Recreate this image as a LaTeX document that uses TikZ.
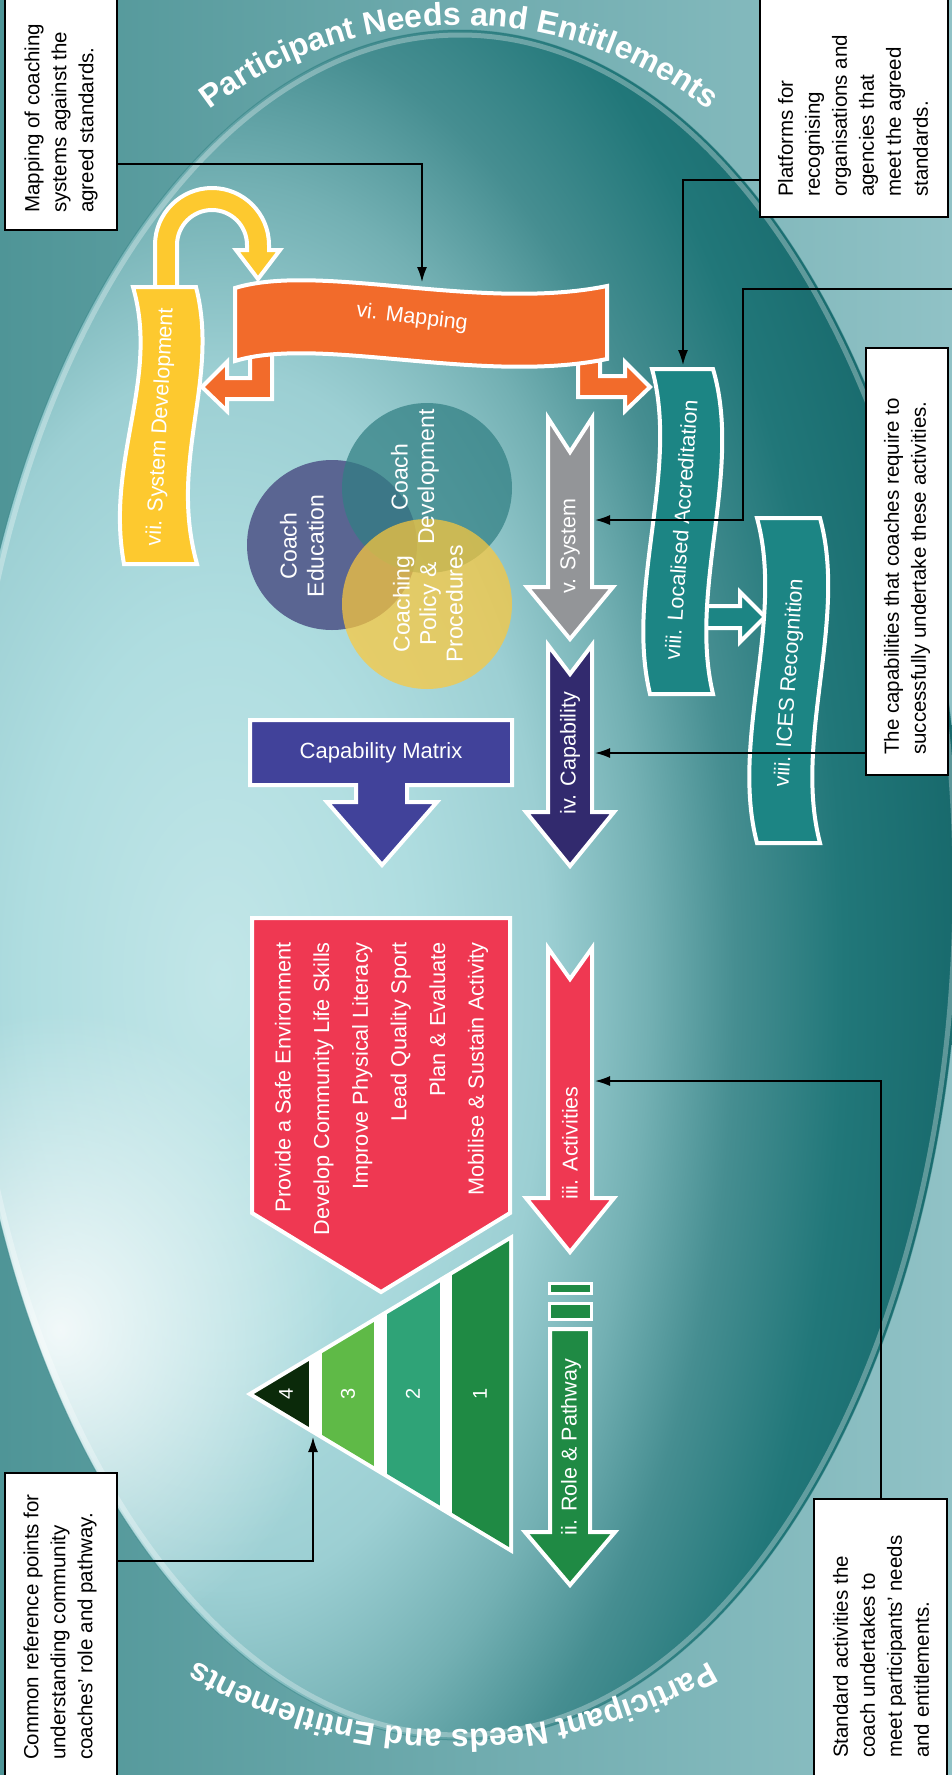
\documentclass[tikz,border=0pt]{standalone}
\usepackage{fontspec}
\setmainfont{Liberation Sans}
\usetikzlibrary{arrows.meta,decorations.text,fadings}
\definecolor{bgL}{HTML}{4F9597}
\definecolor{bgR}{HTML}{90C2C6}
\definecolor{bA}{HTML}{C2E6E8}
\definecolor{bB}{HTML}{AFDDE0}
\definecolor{bC}{HTML}{9CCFD3}
\definecolor{bD}{HTML}{73B0B3}
\definecolor{bE}{HTML}{468E91}
\definecolor{bF}{HTML}{217779}
\definecolor{bG}{HTML}{156568}
\definecolor{orangeR}{HTML}{F26B2B}
\definecolor{yellowR}{HTML}{FDC92F}
\definecolor{tealR}{HTML}{1C8584}
\definecolor{grayA}{HTML}{939598}
\definecolor{navyA}{HTML}{322A6E}
\definecolor{matrixB}{HTML}{41429A}
\definecolor{crimson}{HTML}{EF3852}
\definecolor{gA}{HTML}{1F8A44}
\definecolor{gB}{HTML}{2FA377}
\definecolor{gC}{HTML}{5FBA47}
\definecolor{gD}{HTML}{0B2A0A}
\definecolor{edu}{HTML}{5A6592}
\definecolor{dev}{HTML}{317F83}
\definecolor{pol}{HTML}{FCC83C}
\pgfdeclareradialshading{bubble}{\pgfpoint{0bp}{0bp}}{color(0bp)=(bA); color(6.25bp)=(bB); color(10.5bp)=(bC); color(13.75bp)=(bD); color(16.5bp)=(bE); color(20bp)=(bF); color(25bp)=(bG); color(50bp)=(bG)}
\tikzfading[name=glowfade, inner color=transparent!0, outer color=transparent!100]
\newcommand\arcfont{\fontsize{32}{32}\selectfont\bfseries}
\tikzset{
  wb/.style={draw=white, line width=4pt, line join=miter},
  lbl/.style={text=white, font=\fontsize{21.5}{26}\selectfont, inner sep=0pt},
  infobox/.style={draw=black, fill=white, line width=2.5pt, inner sep=0pt},
  boxtxt/.style={rotate=90, align=left, inner sep=0pt, text=black, font=\fontsize{20.5}{27}\selectfont},
  conn/.style={draw=black, line width=1.5pt, -{Latex[length=15pt,width=10pt]}},
  arcname/.style={decorate, decoration={text along path, text={|\arcfont|Participant Needs and Entitlements}, text align=center, text color=white}}
}
\begin{document}
\begin{tikzpicture}[x=1pt,y=-1pt]
\useasboundingbox (0,0) rectangle (952,1775);
% background
\shade[left color=bgL, right color=bgR] (0,0) rectangle (952,1775);
% bubble
\begin{scope}
  \clip (460,885) ellipse [x radius=500, y radius=855];
  \shade[shading=bubble] (220,980) ellipse [x radius=780, y radius=1450];
  \fill[white, path fading=glowfade, fill opacity=.85] (60,1330) ellipse [x radius=280, y radius=320];
  \draw[white, opacity=.3, line width=5pt] (460,885) ellipse [x radius=495, y radius=850];
\end{scope}
\draw[bF, opacity=.4, line width=1pt] (460,885) ellipse [x radius=500, y radius=855];
% arc texts
\path[arcname] (184.7,130.3) arc[start angle=228, end angle=312, radius=410];
\path[arcname] (724.8,1652) arc[start angle=58, end angle=122, radius=513];
% Venn
\fill[edu] (332,545) circle[radius=85];
\fill[dev, fill opacity=.72] (427,488) circle[radius=85];
\fill[pol, fill opacity=.72] (427,604) circle[radius=85];
\node[lbl, rotate=90, align=center, font=\fontsize{23}{27}\selectfont] (tEdu) at (302,546) {Coach\\Education};
\node[lbl, rotate=90, align=center, font=\fontsize{23}{26.5}\selectfont] (tDev) at (415,477) {Coach\\Development};
\node[lbl, rotate=90, align=center, font=\fontsize{23}{26.5}\selectfont] (tPol) at (428,604) {Coaching\\Policy \&\\Procedures};
% capability matrix
\path[fill=matrixB, wb] (250,720) -- (512,720) -- (512,785) -- (407,785) -- (407,802) -- (437,802) -- (382,865) -- (327,802) -- (356,802) -- (356,785) -- (250,785) -- cycle;
\node[lbl, font=\fontsize{22}{26}\selectfont] (tMat) at (381,753) {Capability Matrix};
% activities pentagon
\path[fill=crimson, wb] (252,918) -- (510,918) -- (510,1213) -- (381,1292) -- (252,1213) -- cycle;
\node[lbl, rotate=90, anchor=east, align=right, font=\fontsize{21.7}{38.6}\selectfont] (tList) at (381.5,942) {Provide a Safe Environment\\Develop Community Life Skills\\Improve Physical Literacy\\Lead Quality Sport\\Plan \& Evaluate\\Mobilise \& Sustain Activity};
% pyramid
\fill[white] (246,1394) -- (513,1234) -- (513,1554) -- cycle;
\begin{scope}
  \clip (254,1394) -- (509,1241) -- (509,1547) -- cycle;
  \fill[gD] (240,1200) rectangle (309,1600);
  \fill[gC] (322,1200) rectangle (374,1600);
  \fill[gB] (387,1200) rectangle (440,1600);
  \fill[gA] (452,1200) rectangle (512,1600);
\end{scope}
\node[lbl, rotate=90, font=\fontsize{20}{20}\selectfont] (p4) at (286,1394) {4};
\node[lbl, rotate=90, font=\fontsize{20}{20}\selectfont] (p3) at (348,1394) {3};
\node[lbl, rotate=90, font=\fontsize{20}{20}\selectfont] (p2) at (413,1394) {2};
\node[lbl, rotate=90, font=\fontsize{20}{20}\selectfont] (p1) at (480,1394) {1};
% column arrows
\path[fill=grayA, wb] (548,418) -- (570,452) -- (592,418) -- (592,587) -- (613,587) -- (570,639) -- (527,587) -- (548,587) -- cycle;
\path[fill=navyA, wb] (548,645) -- (570,674) -- (592,645) -- (592,812) -- (614,812) -- (570,866) -- (526,812) -- (548,812) -- cycle;
\path[fill=crimson, wb] (548,948) -- (570,979) -- (592,948) -- (592,1198) -- (614,1198) -- (570,1252) -- (526,1198) -- (548,1198) -- cycle;
\path[fill=gA, draw=white, line width=3pt] (549,1283) rectangle (591,1293);
\path[fill=gA, draw=white, line width=3pt] (549,1303) rectangle (591,1319);
\path[fill=gA, wb] (550,1329) -- (590,1329) -- (590,1532) -- (615,1532) -- (570,1585) -- (525,1532) -- (550,1532) -- cycle;
\node[lbl, rotate=90] (tSys) at (570,546) {v. System};
\node[lbl, rotate=90] (tCapA) at (570,753) {iv. Capability};
\node[lbl, rotate=90] (tActA) at (570,1143) {iii. Activities};
\node[lbl, rotate=90] (tRole) at (571,1447) {ii. Role \& Pathway};
% orange L arrows
\path[fill=orangeR, wb] (250,350) -- (250,378) -- (227,378) -- (227,362) -- (202,387) -- (227,411) -- (227,399) -- (272,399) -- (272,350) -- cycle;
\path[fill=orangeR, wb] (600,350) -- (600,376) -- (625,376) -- (625,362) -- (650,387) -- (625,411) -- (625,397) -- (578,397) -- (578,350) -- cycle;
% yellow arch
\path[fill=yellowR, wb] (155,300) -- (155,245) arc[start angle=180, end angle=360, radius=57] -- (269,250) -- (280,250) -- (258,279) -- (236,250) -- (247,250) -- (247,245) arc[start angle=0, end angle=-180, radius=35] -- (177,300) -- cycle;
% ribbons
\path[fill=orangeR, wb] (235,288) .. controls (320,262) and (480,312) .. (607,286) -- (607,359) .. controls (480,385) and (320,335) .. (235,361) -- cycle;
\node[lbl, rotate=-7] (tMap) at (412,318) {vi. Mapping};
\path[fill=yellowR, wb] (133,287) -- (196,287) .. controls (220,380) and (168,460) .. (197,564) -- (124,564) .. controls (105,460) and (160,380) .. (133,287) -- cycle;
\node[lbl, rotate=87] (tSD) at (161,427) {vii. System Development};
\path[fill=tealR, wb] (690,606) -- (740,606) -- (740,592) -- (765,617) -- (740,642) -- (740,628) -- (690,628);
\path[fill=tealR, wb] (652,369) -- (713,369) .. controls (743,470) and (688,590) .. (713,694) -- (650,694) .. controls (625,590) and (680,470) .. (652,369) -- cycle;
\node[lbl, rotate=86] (tLoc) at (681,530) {viii. Localised Accreditation};
\path[fill=tealR, wb] (757,518) -- (820,518) .. controls (848,620) and (793,740) .. (820,843) -- (757,843) .. controls (730,740) and (785,620) .. (757,518) -- cycle;
\node[lbl, rotate=86] (tICES) at (790,683) {viii. ICES Recognition};
% info boxes
\node[infobox, minimum width=112pt, minimum height=232pt] (boxA) at (61,114) {};
\node[boxtxt, anchor=west] at (61,213) {Mapping of coaching\\systems against the\\agreed standards.};
\node[infobox, minimum width=188pt, minimum height=219pt] (boxB) at (854,107.5) {};
\node[boxtxt, anchor=west] at (853,197) {Platforms for\\recognising\\organisations and\\agencies that\\meet the agreed\\standards.};
\node[infobox, minimum width=82pt, minimum height=427pt] (boxD) at (907,561.5) {};
\node[boxtxt, anchor=west] at (907,755) {The capabilities that coaches require to\\successfully undertake these activities.};
\node[infobox, minimum width=112pt, minimum height=317pt] (boxE) at (61,1631.5) {};
\node[boxtxt, anchor=west] at (60,1760) {Common reference points for\\understanding community\\coaches' role and pathway.};
\node[infobox, minimum width=133pt, minimum height=291pt] (boxF) at (880.5,1644.5) {};
\node[boxtxt, anchor=west] at (881,1758) {Standard activities the\\coach undertakes to\\meet participants' needs\\and entitlements.};
% connector targets
\coordinate (yA) at (0,164);
\coordinate (yB) at (0,180);
\coordinate (yE) at (0,1561);
\coordinate (xF) at (881,0);
\coordinate (tgMap) at (422,282);
\coordinate (tgLoc) at (683,365);
\coordinate (cRight) at (952,289);
\coordinate (cBend) at (743,520);
\coordinate (tgSys) at (595,520);
\coordinate (tgCap) at (595,753);
\coordinate (tgPyr) at (313,1437);
\coordinate (tgAct) at (595,1081);
\draw[conn] (boxA.east |- yA) -| (tgMap);
\draw[conn] (boxB.west |- yB) -| (tgLoc);
\draw[conn] (cRight) -| (cBend) -- (tgSys);
\draw[conn] (boxD.west |- tgCap) -- (tgCap);
\draw[conn] (boxE.east |- yE) -| (tgPyr);
\draw[conn] (boxF.north -| xF) |- (tgAct);
\end{tikzpicture}
\end{document}
